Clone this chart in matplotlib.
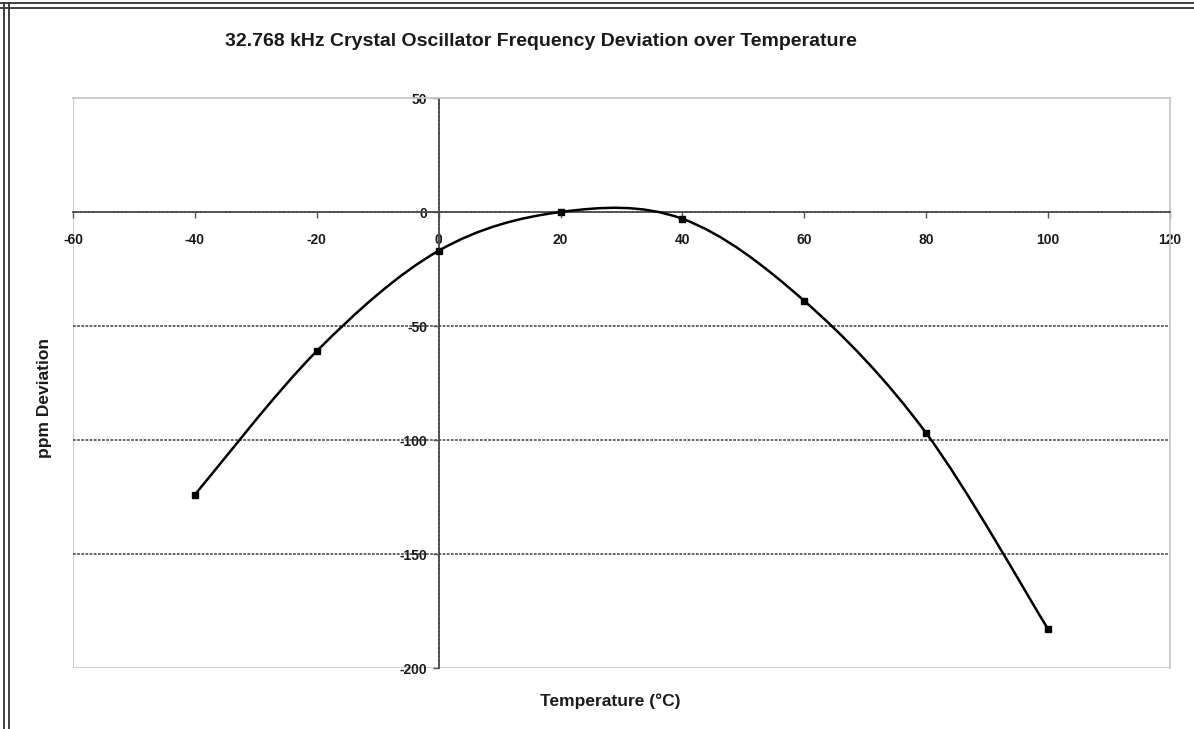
import matplotlib
matplotlib.use("Agg")
import matplotlib.pyplot as plt
from matplotlib.path import Path
from matplotlib.patches import PathPatch
from matplotlib.lines import Line2D

# data
temps = [-40, -20, 0, 20, 40, 60, 80, 100]
ppm = [-124, -61, -17, 0, -3, -39, -97, -183]

x_ticks = [-60, -40, -20, 0, 20, 40, 60, 80, 100, 120]
y_ticks = [-200, -150, -100, -50, 0, 50]

title = "32.768 kHz Crystal Oscillator Frequency Deviation over Temperature"
x_label = "Temperature (°C)"
y_label = "ppm Deviation"

plt.rcParams['font.family'] = ['Liberation Sans', 'DejaVu Sans']

GRID_DASH = (0, (1.5, 0.8))


def smooth_path(xs, ys):
    # Excel-like smoothed line: Bezier segments with Catmull-Rom control points
    pts = list(zip(xs, ys))
    verts = [pts[0]]
    codes = [Path.MOVETO]
    n = len(pts)
    for i in range(n - 1):
        p0 = pts[i - 1] if i > 0 else pts[i]
        p1 = pts[i]
        p2 = pts[i + 1]
        p3 = pts[i + 2] if i + 2 < n else pts[i + 1]
        c1 = (p1[0] + (p2[0] - p0[0]) / 6, p1[1] + (p2[1] - p0[1]) / 6)
        c2 = (p2[0] - (p3[0] - p1[0]) / 6, p2[1] - (p3[1] - p1[1]) / 6)
        verts += [c1, c2, p2]
        codes += [Path.CURVE4] * 3
    return Path(verts, codes)


fig = plt.figure(figsize=(11.94, 7.29), dpi=100)
ax = fig.add_axes([73 / 1194, 1 - 668 / 729, 1097 / 1194, 570 / 729])

ax.set_xlim(-60, 120)
ax.set_ylim(-200, 50)

# gridlines
for yv in y_ticks:
    if yv not in (0, 50, -200):
        ax.axhline(yv, color='#5a5a5a', lw=1.3, ls=GRID_DASH, zorder=1)

# plot-area frame
for side in ('top', 'right'):
    ax.spines[side].set_color('#c8c8c8')
    ax.spines[side].set_linewidth(1.3)
ax.add_line(Line2D([0, 0, 1], [1, 0, 0], transform=ax.transAxes,
                   color='#c8c8c8', lw=1.3, zorder=0))

# axes crossing at zero
ax.spines['left'].set_position(('data', 0))
ax.spines['bottom'].set_position(('data', 0))
for side in ('left', 'bottom'):
    ax.spines[side].set_color('#4a4a4a')
    ax.spines[side].set_linewidth(1.3)
    ax.spines[side].set_linestyle(GRID_DASH)

ax.set_xticks(x_ticks)
ax.set_yticks(y_ticks)
ax.set_xticklabels([str(v) for v in x_ticks], fontweight='bold')
ax.set_yticklabels([str(v) for v in y_ticks], fontweight='bold')
ax.tick_params(axis='x', direction='out', length=4, width=1, color='#555555',
               pad=11, labelsize=10, labelcolor='#1a1a1a')
ax.tick_params(axis='y', direction='out', length=4, width=1, color='#555555',
               pad=4, labelsize=10, labelcolor='#1a1a1a')

patch = PathPatch(smooth_path(temps, ppm), facecolor='none', edgecolor='black',
                  lw=1.8, zorder=3)
ax.add_patch(patch)
ax.plot(temps, ppm, ls='none', marker='s', ms=5, color='black', zorder=4)

fig.text(541 / 1194, 1 - 42 / 729, title, ha='center', va='center',
         fontsize=14, fontweight='bold', color='#1a1a1a')
fig.text(610 / 1194, 1 - 701 / 729, x_label, ha='center', va='center',
         fontsize=12.5, fontweight='bold', color='#1a1a1a')
fig.text(45 / 1194, 1 - 398 / 729, y_label, ha='center', va='center',
         rotation=90, fontsize=12.5, fontweight='bold', color='#1a1a1a')

# outer double frame
for yy in (2.5, 7.5):
    fig.add_artist(Line2D([0, 1], [1 - yy / 729] * 2, transform=fig.transFigure,
                          color='#333333', lw=1.3))
for xx in (3.5, 8.5):
    fig.add_artist(Line2D([xx / 1194] * 2, [0, 1 - 2.5 / 729], transform=fig.transFigure,
                          color='#333333', lw=1.3))

fig.savefig('out.png', dpi=100)
